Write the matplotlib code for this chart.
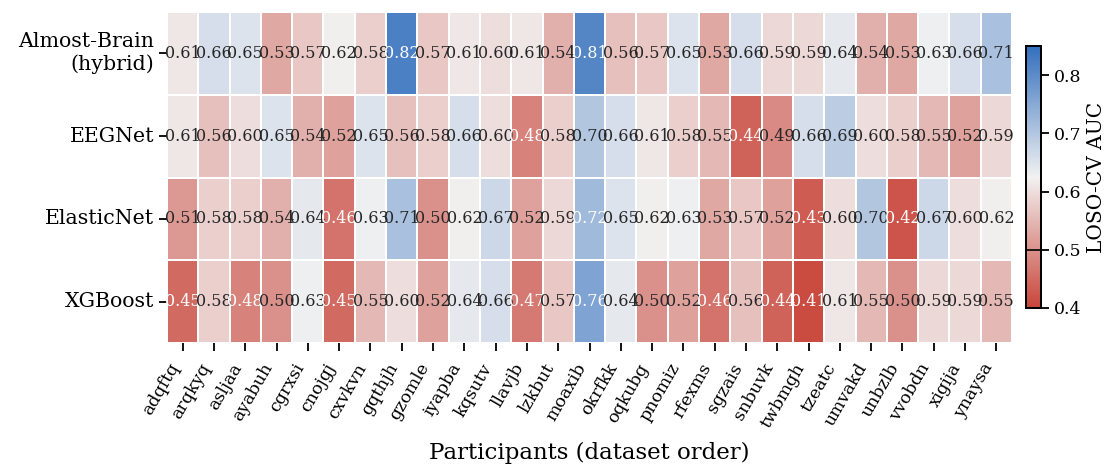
import matplotlib
matplotlib.use("Agg")
import matplotlib.pyplot as plt
from matplotlib.colors import LinearSegmentedColormap
import numpy as np
import seaborn as sns

models = ["Almost-Brain\n(hybrid)", "EEGNet", "ElasticNet", "XGBoost"]
participants = ["adqftq", "arqkyq", "asljaa", "ayabuh", "cgrxsi", "cnojgj", "cxvkvn",
                "gqthjh", "gzomle", "iyapba", "kqsutv", "llavjb", "lzkbut", "moaxib",
                "okrfkk", "oqkubg", "pnomiz", "rfexms", "sgzais", "snbuvk", "twbmgh",
                "tzeatc", "umvakd", "unbzlb", "vvobdn", "xigija", "ynaysa"]
almost_brain = [0.61, 0.66, 0.65, 0.53, 0.57, 0.62, 0.58, 0.82, 0.57, 0.61, 0.60, 0.61, 0.54,
                0.81, 0.56, 0.57, 0.65, 0.53, 0.66, 0.59, 0.59, 0.64, 0.54, 0.53, 0.63, 0.66, 0.71]
eegnet = [0.61, 0.56, 0.60, 0.65, 0.54, 0.52, 0.65, 0.56, 0.58, 0.66, 0.60, 0.48, 0.58,
          0.70, 0.66, 0.61, 0.58, 0.55, 0.44, 0.49, 0.66, 0.69, 0.60, 0.58, 0.55, 0.52, 0.59]
elasticnet = [0.51, 0.58, 0.58, 0.54, 0.64, 0.46, 0.63, 0.71, 0.50, 0.62, 0.67, 0.52, 0.59,
              0.72, 0.65, 0.62, 0.63, 0.53, 0.57, 0.52, 0.43, 0.60, 0.70, 0.42, 0.67, 0.60, 0.62]
xgboost = [0.45, 0.58, 0.48, 0.50, 0.63, 0.45, 0.55, 0.60, 0.52, 0.64, 0.66, 0.47, 0.57,
           0.76, 0.64, 0.50, 0.52, 0.46, 0.56, 0.44, 0.41, 0.61, 0.55, 0.50, 0.59, 0.59, 0.55]
cbar_ticks = [0.4, 0.5, 0.6, 0.7, 0.8]

plt.rcParams['font.family'] = ['DejaVu Serif']

data = np.array([almost_brain, eegnet, elasticnet, xgboost])

fig = plt.figure(figsize=(11.16, 4.66), dpi=100)
ax = fig.add_axes([167/1116, 1 - 343/466, (1012 - 167)/1116, 331/466])
cax = fig.add_axes([1026/1116, 1 - 308/466, 15/1116, 262/466])

cmap = LinearSegmentedColormap.from_list("rb", ["#c8453a", "#f2f2f2", "#336fbd"])
sns.heatmap(data, ax=ax, cbar_ax=cax, cmap=cmap, vmin=0.4, vmax=0.85,
            annot=True, fmt=".2f", annot_kws={"fontsize": 11.5},
            linewidths=0.12, linecolor='white',
            xticklabels=participants, yticklabels=models,
            cbar_kws={"ticks": cbar_ticks})

for txt, v in zip(ax.texts, data.flatten()):
    txt.set_color('white' if (v < 0.485 or v > 0.715) else '0.15')

ax.tick_params(axis='both', which='both', length=5.5, width=1.3, color='black')
ax.tick_params(axis='x', pad=7)
ax.set_xticklabels(participants, rotation=60, ha='right', fontsize=12.5)
ax.set_yticklabels(models, rotation=0, fontsize=14.8)
ax.set_xlabel("Participants (dataset order)", fontsize=16.5, labelpad=8)

cax.tick_params(labelsize=12.5, length=5.5, width=1.3)
cax.set_ylabel("LOSO-CV AUC", fontsize=14.5)
cax.axhline(0.5, color='black', lw=1.2)
for sp in cax.spines.values():
    sp.set_visible(True)
    sp.set_linewidth(1.3)

fig.savefig("out.png", dpi=100)
